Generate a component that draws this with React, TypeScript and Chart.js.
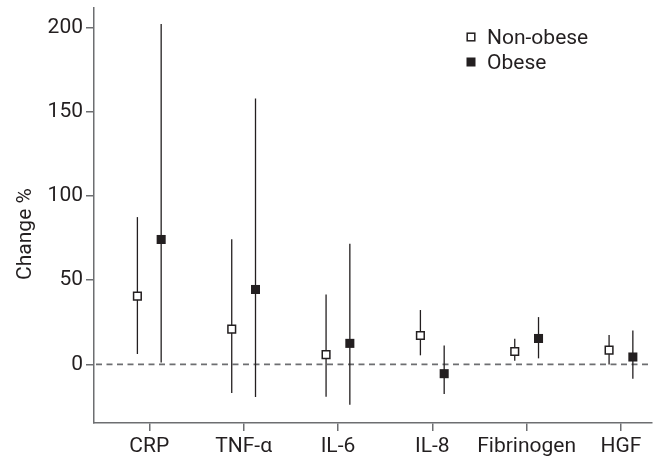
import { useEffect, useRef } from 'react';
import { Chart, registerables } from 'chart.js';

Chart.register(...registerables);

const categories = ['CRP', 'TNF-α', 'IL-6', 'IL-8', 'Fibrinogen', 'HGF'];
const seriesNames = ['Non-obese', 'Obese'];
const nonObeseMean = [40.6, 21.0, 5.8, 17.2, 7.7, 8.5];
const nonObeseLow = [6.2, -17.0, -19.2, 5.4, 2.2, 0.0];
const nonObeseHigh = [87.5, 74.4, 41.5, 32.3, 15.3, 17.4];
const obeseMean = [74.2, 44.5, 12.5, -5.5, 15.4, 4.4];
const obeseLow = [1.2, -19.3, -23.9, -17.6, 3.6, -8.5];
const obeseHigh = [202.2, 157.9, 71.6, 11.3, 28.1, 20.2];
const yTicks = [0, 50, 100, 150, 200];
const yTitle = 'Change %';

const OFFSET = 0.126;
const FONT = "Roboto, 'DejaVu Sans', sans-serif";
const INK = '#231f20';
const AXIS = '#6d6e71';

export default function App() {
  const ref = useRef<HTMLCanvasElement>(null);

  useEffect(() => {
    if (!ref.current) return;

    const errorBars = {
      id: 'errorBars',
      beforeDatasetsDraw(chart: any) {
        const { ctx, chartArea, scales } = chart;
        const xs = scales.x;
        const ys = scales.y;
        ctx.save();
        // zero reference line
        ctx.strokeStyle = AXIS;
        ctx.lineWidth = 1.8;
        ctx.setLineDash([6, 4.5]);
        const y0 = ys.getPixelForValue(0);
        ctx.beginPath();
        ctx.moveTo(chartArea.left + 2, y0);
        ctx.lineTo(chartArea.right - 2, y0);
        ctx.stroke();
        ctx.setLineDash([]);
        // error bars
        ctx.strokeStyle = INK;
        ctx.lineWidth = 1.3;
        const groups = [
          { lo: nonObeseLow, hi: nonObeseHigh, off: -OFFSET },
          { lo: obeseLow, hi: obeseHigh, off: OFFSET },
        ];
        groups.forEach((g) => {
          categories.forEach((_, i) => {
            const x = xs.getPixelForValue(i + g.off);
            ctx.beginPath();
            ctx.moveTo(x, ys.getPixelForValue(g.lo[i]));
            ctx.lineTo(x, ys.getPixelForValue(g.hi[i]));
            ctx.stroke();
          });
        });
        ctx.restore();
      },
    };

    const extras = {
      id: 'extras',
      afterDraw(chart: any) {
        const { ctx } = chart;
        ctx.save();
        // legend
        const mx = 471;
        const rows = [37, 62];
        ctx.lineWidth = 1.5;
        ctx.strokeStyle = INK;
        ctx.fillStyle = '#ffffff';
        ctx.fillRect(mx - 3.8, rows[0] - 3.8, 7.6, 7.6);
        ctx.strokeRect(mx - 3.8, rows[0] - 3.8, 7.6, 7.6);
        ctx.fillStyle = INK;
        ctx.fillRect(mx - 4.5, rows[1] - 4.5, 9, 9);
        ctx.font = `21px ${FONT}`;
        ctx.textAlign = 'left';
        ctx.textBaseline = 'alphabetic';
        ctx.fillText(seriesNames[0], 487, rows[0] + 7);
        ctx.fillText(seriesNames[1], 487, rows[1] + 7);
        // y-axis title
        ctx.translate(31, 234);
        ctx.rotate(-Math.PI / 2);
        ctx.textAlign = 'center';
        ctx.fillText(yTitle, 0, 0);
        ctx.restore();
      },
    };

    const chart = new Chart(ref.current, {
      type: 'scatter',
      data: {
        datasets: [
          {
            label: seriesNames[0],
            data: categories.map((_, i) => ({ x: i - OFFSET, y: nonObeseMean[i] })),
            pointStyle: 'rect',
            pointRadius: 5.4,
            backgroundColor: '#ffffff',
            borderColor: INK,
            borderWidth: 1.5,
          },
          {
            label: seriesNames[1],
            data: categories.map((_, i) => ({ x: i + OFFSET, y: obeseMean[i] })),
            pointStyle: 'rect',
            pointRadius: 6.4,
            backgroundColor: INK,
            borderColor: INK,
            borderWidth: 0,
          },
        ],
      },
      options: {
        animation: false,
        responsive: false,
        devicePixelRatio: 1,
        layout: { padding: { top: 8, right: 3, left: 0, bottom: 0 } },
        plugins: {
          legend: { display: false },
          tooltip: { enabled: false },
        },
        scales: {
          x: {
            type: 'linear',
            min: -0.586,
            max: 5.33,
            afterBuildTicks: (s: any) => {
              s.ticks = categories.map((_, i) => ({ value: i }));
            },
            afterFit: (s: any) => {
              s.height = 35;
              s.paddingLeft = 0;
              s.paddingRight = 0;
            },
            ticks: {
              autoSkip: false,
              maxRotation: 0,
              callback: (v: any) => categories[Math.round(Number(v))] ?? '',
              font: { family: FONT, size: 21 },
              color: INK,
              padding: 3,
            },
            grid: {
              drawOnChartArea: false,
              drawTicks: true,
              tickLength: 8,
              tickColor: AXIS,
              tickWidth: 1.5,
              lineWidth: 1.5,
              color: AXIS,
            },
            border: { display: true, color: AXIS, width: 1.5 },
          },
          y: {
            type: 'linear',
            min: -34.8,
            max: 211.7,
            afterBuildTicks: (s: any) => {
              s.ticks = yTicks.map((v) => ({ value: v }));
            },
            afterFit: (s: any) => {
              s.width = 94;
              s.paddingTop = 0;
              s.paddingBottom = 0;
            },
            ticks: {
              font: { family: FONT, size: 21 },
              color: INK,
              padding: 3,
            },
            grid: {
              drawOnChartArea: false,
              drawTicks: true,
              tickLength: 8,
              tickColor: AXIS,
              tickWidth: 1.5,
              lineWidth: 1.5,
              color: AXIS,
            },
            border: { display: true, color: AXIS, width: 1.5 },
          },
        },
      },
      plugins: [errorBars, extras],
    } as any);

    return () => chart.destroy();
  }, []);

  return (
    <div style={{ position: 'fixed', left: 0, top: 0, width: 659, height: 458, background: '#fff' }}>
      <canvas ref={ref} width={659} height={458} style={{ width: 659, height: 458, display: 'block' }} />
    </div>
  );
}
